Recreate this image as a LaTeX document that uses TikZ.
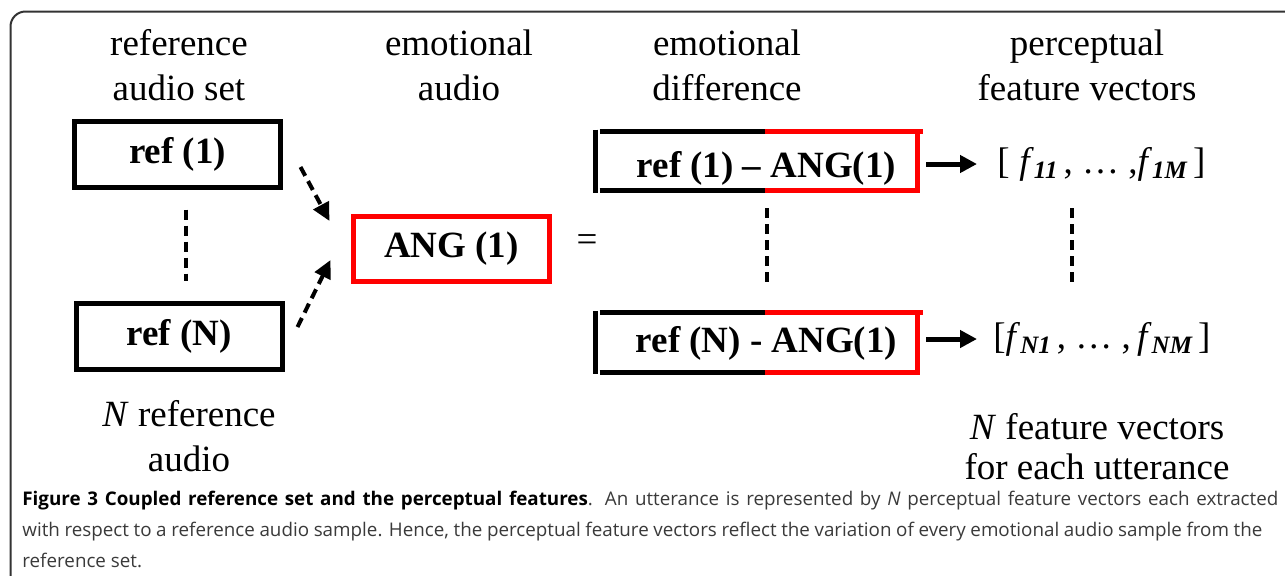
\documentclass[tikz,border=0pt]{standalone}
\usepackage{fontspec}
\setmainfont{Liberation Serif}
\newfontfamily\capfont{Open Sans}
\usetikzlibrary{arrows.meta,calc}
\definecolor{captext}{HTML}{3A3A3A}
\definecolor{framegray}{HTML}{333333}
\definecolor{boxred}{HTML}{FF0000}

% subscript of a feature symbol
\newcommand{\fsub}[1]{\raisebox{-2.5pt}{\fontsize{12.5pt}{12.5pt}\selectfont\bfseries\itshape #1}}

\tikzset{
  hdr/.style={font=\fontsize{18.5pt}{22.5pt}\selectfont, align=center, inner sep=0pt},
  note/.style={font=\fontsize{18.5pt}{20pt}\selectfont, align=center, inner sep=0pt},
  boxfont/.style={font=\bfseries\fontsize{18.5pt}{22pt}\selectfont},
  blkbox/.style={boxfont, draw=black, line width=2.5pt, minimum width=103pt,
                 minimum height=33pt, inner sep=0pt},
  redbox/.style={blkbox, draw=boxred, minimum width=98pt, minimum height=32.5pt},
  region/.style={minimum width=161pt, minimum height=29.5pt, inner sep=0pt},
  seg/.style={line width=2.5pt},
  dashline/.style={line width=2pt, dash pattern=on 5pt off 3pt},
  dasharrow/.style={line width=2pt, dash pattern=on 5pt off 3pt,
                    -{Triangle[length=9pt,width=8.5pt]}},
  fatarrow/.style={line width=2.5pt, -{Triangle[length=8.5pt,width=8.5pt]}},
  vec/.style={font=\fontsize{18.5pt}{22pt}\selectfont, inner sep=0pt, anchor=west},
}

\begin{document}
\begin{tikzpicture}[x=0.5pt,y=-0.5pt]
\useasboundingbox (0,0) rectangle (1285,575);
\clip (0,0) rectangle (1285,575);
\fill[white] (0,0) rectangle (1285,575);

% outer frame, running off the right and bottom edges
\draw[line width=1pt, draw=framegray, rounded corners=7.5pt] (10.5,11.5) rectangle (1320,620);

% column headings
\node[hdr] (h1) at (179,65) {reference\\audio set};
\node[hdr] (h2) at (459,65) {emotional\\audio};
\node[hdr] (h3) at (727,65) {emotional\\difference};
\node[hdr] (h4) at (1087,65) {perceptual\\feature vectors};

% reference set
\node[blkbox] (ref1) at (177.5,154.5) {ref (1)};
\node[blkbox] (refN) at (179,336.5) {ref (N)};
\draw[dashline] ($(ref1.south)+(8.5,19.5)$) -- ($(refN.north)+(7,-20.5)$);

% emotional sample
\node[redbox] (ang) at (451.5,249) {ANG (1)};
\draw[dasharrow] ($(ref1.east)+(17.5,12.5)$) -- ($(ang.west)+(-21.5,-28)$);
\draw[dasharrow] ($(refN.east)+(13,-9.5)$) -- ($(ang.west)+(-20.5,11)$);

\node[font=\fontsize{18.5pt}{22pt}\selectfont, inner sep=0pt] (eq) at (587,243) {=};

% difference boxes: black left half, red right half
\node[region] (d1) at (756.5,161) {};
\node[region] (d2) at (756.5,342.2) {};
\node[boxfont, inner sep=0pt] (t1) at (766.5,168) {ref (1) -- ANG(1)};
\node[boxfont, inner sep=0pt] (t2) at (766.5,343) {ref (N) - ANG(1)};

\foreach \d in {d1,d2}{
  \draw[seg] ($(\d.north west)+(0,-1.5)$) -- ($(\d.south west)+(0,2)$);
  \draw[seg] ($(\d.north west)+(4.5,0)$) -- ($(\d.north west)+(170,0)$);
  \draw[seg] ($(\d.south west)+(4.5,0)$) -- ($(\d.south west)+(170,0)$);
  \draw[seg, boxred] ($(\d.north west)+(169.5,0)$) -- ($(\d.north east)+(5,0)$);
  \draw[seg, boxred] ($(\d.south west)+(169.5,0)$) -- ($(\d.south east)+(2.5,0)$);
  \draw[seg, boxred] (\d.north east) -- (\d.south east);
}

\draw[dashline] ($(d1.south)+(10.5,17.5)$) -- ($(d2.north)+(10.5,-30)$);

% feature vectors
\node[vec] (v1) at (997,164) {[\hspace{0.26em}\textit{f}\fsub{11}\,,\ \dots\ ,\textit{f}\fsub{1M}\,]};
\node[vec] (v2) at (993,339) {[\textit{f}\fsub{N1}\,,\ \dots\ ,\,\textit{f}\fsub{NM}\,]};
\draw[fatarrow] ($(d1.east |- v1.west)+(8.5,0)$) -- ($(v1.west)+(-20,0)$);
\draw[fatarrow] ($(d2.east |- v2.west)+(8.5,0)$) -- ($(v2.west)+(-16,0)$);
\draw[dashline] (1072,208) -- (1072,283);

% notes under the columns
\node[note, font=\fontsize{18.5pt}{22.5pt}\selectfont] (n1) at (189,436) {\textit{N} reference\\audio};
\node[note] (n2) at (1097,447) {\textit{N} feature vectors\\for each utterance};

% caption
\node[anchor=north west, inner sep=0pt, align=left, text=captext,
      font=\capfont\fontsize{9.4pt}{15.5pt}\selectfont] (cap) at (22,491)
 {\makebox[628pt][s]{\textcolor{black}{\bfseries Figure 3 Coupled reference set and the perceptual features}. An utterance is represented by \textit{N} perceptual feature vectors each extracted}\\
  \makebox[620pt][s]{with respect to a reference audio sample. Hence, the perceptual feature vectors reflect the variation of every emotional audio sample from the}\\
  reference set.};
\end{tikzpicture}
\end{document}
